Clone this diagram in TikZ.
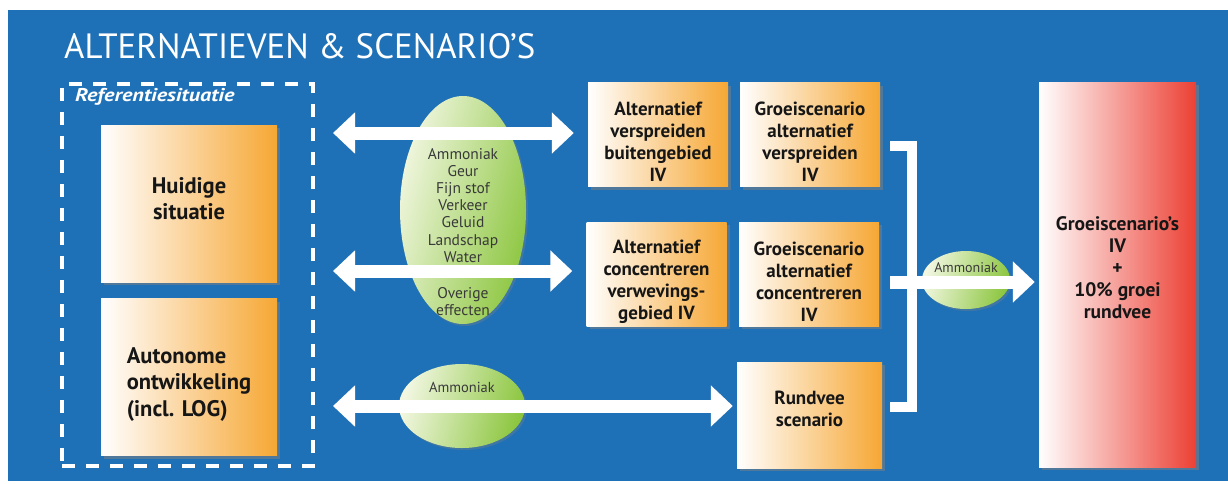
\documentclass[tikz,border=0pt]{standalone}
\usepackage{fontspec}
\usepackage{graphicx}
\setmainfont{PT Sans}
\usetikzlibrary{shapes.geometric,arrows.meta,shadows,calc}
\definecolor{bgblue}{RGB}{31,113,183}
\definecolor{orng}{RGB}{246,167,52}
\definecolor{redd}{RGB}{236,64,52}
\definecolor{grn}{RGB}{140,198,63}
\definecolor{grnl}{RGB}{242,247,226}
\definecolor{txt}{RGB}{22,22,22}
\newcommand\padtop[1]{\rule{0pt}{#1}}
\newcommand\padbot[1]{\rule[-#1]{0pt}{0pt}}
\begin{document}
\begin{tikzpicture}[x=1pt,y=-1pt,
  shad/.style={drop shadow={shadow xshift=3pt,shadow yshift=-3pt,opacity=0.5}},
  obox/.style={rectangle,left color=white,right color=orng,shad,text=txt,
    font=\bfseries\fontsize{19}{22}\selectfont,align=center,inner sep=0pt,
    minimum width=140pt,minimum height=104pt},
  bigbox/.style={obox,minimum width=176pt,minimum height=157pt,
    font=\bfseries\fontsize{22.5}{26.5}\selectfont},
  gell/.style={ellipse,inner sep=0pt,left color=grnl,right color=grn,
    shading angle=75,drop shadow={shadow xshift=2pt,shadow yshift=-2pt,opacity=0.35}},
  etext/.style={text=txt!85,align=center,inner sep=0pt},
  warrow/.style={draw=white,line width=13pt,
    arrows={-Triangle[width=40pt 0 0,length=22pt 0 0]}},
  wdarrow/.style={draw=white,line width=13pt,
    arrows={Triangle[width=40pt 0 0,length=22pt 0 0]-Triangle[width=40pt 0 0,length=22pt 0 0]}}
]
\useasboundingbox (0,0) rectangle (1228,483);
\fill[white] (0,0) rectangle (1228,483);
\fill[bgblue] (8,10) rectangle (1228,481);

% title
\node[anchor=south west,inner sep=0pt,text=white] (title) at (64,59)
  {\resizebox{471pt}{25pt}{ALTERNATIEVEN \& SCENARIO’S}};

% reference situation
\node[draw=white,dash pattern=on 13pt off 11pt,line width=3.2pt,
  minimum width=251pt,minimum height=382pt,inner sep=0pt] (ref) at (187.5,275) {};
\node[anchor=south west,text=white,inner sep=0pt,
  font=\bfseries\itshape\fontsize{18.5}{22}\selectfont] (reflab) at (75,105.5)
  {\scalebox{1.2}[1]{Referentiesituatie}};
\node[bigbox] (hs) at (189,203.5) {Huidige\\situatie\padbot{10pt}};
\node[bigbox,align=left] (ao) at (189,377) {\padtop{30pt}Autonome\\ontwikkeling\\(incl. LOG)};

% ellipses
\node[gell,minimum width=126pt,minimum height=228pt] (eff) at (463,210) {};
\node[etext,font=\fontsize{15.5}{17.2}\selectfont] (efft) at (463,232)
  {Ammoniak\\Geur\\Fijn stof\\Verkeer\\Geluid\\Landschap\\Water\\[19pt]Overige\\effecten};
\node[gell,minimum width=126pt,minimum height=84pt] (e2) at (462,406) {};
\node[etext,font=\fontsize{14.5}{16}\selectfont] (e2t) at (462,387) {Ammoniak};
\node[gell,minimum width=88pt,minimum height=58pt] (e3) at (966,280) {};
\node[etext,font=\fontsize{14}{16}\selectfont] (e3t) at (966,268) {Ammoniak};

% boxes
\node[obox] (a1) at (658,134.5) {\padtop{29pt}Alternatief\\verspreiden\\buitengebied\\IV};
\node[obox] (g1) at (810,134.5) {\padtop{29pt}Groeiscenario\\alternatief\\verspreiden\\IV};
\node[obox] (a2) at (656.5,274) {\padtop{29pt}Alternatief\\concentreren\\verwevings-\\gebied IV};
\node[obox] (g2) at (809,274) {\padtop{29pt}Groeiscenario\\alternatief\\concentreren\\IV};
\node[obox,minimum width=145pt,minimum height=106pt] (rv) at (809.5,415) {Rundvee\\scenario\padbot{12pt}};

% result
\node[rectangle,left color=white,right color=redd,shad,inner sep=0pt,
  minimum width=157pt,minimum height=385pt,text=txt,align=center,
  font=\bfseries\fontsize{19.5}{22}\selectfont] (gs) at (1117.5,274.5)
  {Groeiscenario’s\\IV\\+\\10\% groei\\rundvee\padbot{14pt}};

% arrows
\coordinate (r1) at (333,133);
\coordinate (r2) at (333,271);
\coordinate (r3) at (333,406);
\draw[wdarrow] (r1) -- ([xshift=-14pt]a1.west |- r1);
\draw[wdarrow] (r2) -- ([xshift=-14pt]a2.west |- r2);
\draw[wdarrow] (r3) -- ([xshift=-4pt]rv.west |- r3);

% bracket
\coordinate (b1) at (890,146);
\coordinate (b2) at (912,146);
\coordinate (b3) at (912,407);
\coordinate (b4) at (890,407);
\coordinate (bm) at (890,282);
\draw[white,line width=10pt,miter limit=10] (b1) -- (b2) -- (b3) -- (b4);
\draw[warrow] (bm) -- ([xshift=-4pt]gs.west |- bm);
\end{tikzpicture}
\end{document}
